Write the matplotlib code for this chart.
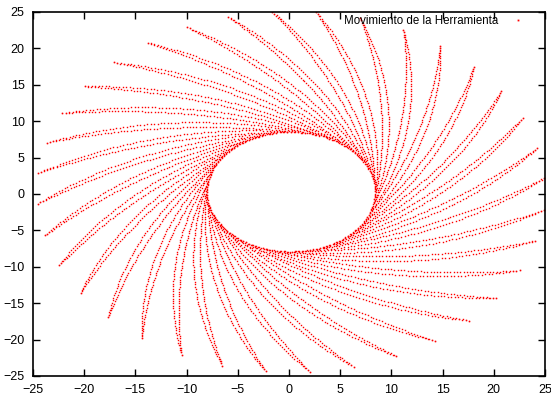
import numpy as np
import matplotlib
matplotlib.use("Agg")
import matplotlib.pyplot as plt

plt.rcParams['font.family'] = ['Liberation Sans', 'DejaVu Sans']

# tip angles (deg) of the 36 arms
tip_angles = [4.4, 14.1, 24.2, 34.0, 43.9, 54.0, 63.7, 74.2, 84.3, 94.3,
              104.3, 114.2, 124.3, 134.2, 144.3, 154.2, 164.2, 174.0,
              183.8, 194.0, 204.0, 214.0, 224.0, 234.0, 244.5, 254.3,
              264.3, 274.3, 284.3, 294.5, 304.5, 314.5, 324.0, 334.2,
              344.3, 354.3]
hole_center = (0.2, 0.3)
inner_r = 8.2          # radius of the empty hole
outer_r = 24.8         # radius where the arms end
bend_r = [40.0, 58.0]  # curvature radius of the two strokes of each arm
n_pts = 80

xticks = [-25, -20, -15, -10, -5, 0, 5, 10, 15, 20, 25]
yticks = [-25, -20, -15, -10, -5, 0, 5, 10, 15, 20, 25]


def stroke(tip_deg, rho):
    # arc tangent to the hole, bending with radius rho, ending at the tip
    c = inner_r - rho
    cos_end = (c * c + rho * rho - outer_r ** 2) / (-2 * c * rho)
    phi = np.linspace(0, np.arccos(cos_end), n_pts)
    px = c + rho * np.cos(phi)
    py = rho * np.sin(phi)
    rot = np.radians(tip_deg) - np.arctan2(py[-1], px[-1])
    x = px * np.cos(rot) - py * np.sin(rot) + hole_center[0]
    y = px * np.sin(rot) + py * np.cos(rot) + hole_center[1]
    return x, y


fig = plt.figure(figsize=(5.51, 4.0), dpi=100)
ax = fig.add_axes([0.0599, 0.06, 0.929, 0.91])

first = True
for t in tip_angles:
    for rho in bend_r:
        x, y = stroke(t, rho)
        ax.plot(x, y, ls='none', marker='s', ms=1.0, mew=0, color='red',
                label='Movimiento de la Herramienta' if first else None)
        first = False

ax.set_xlim(-25, 25)
ax.set_ylim(-25, 25)
ax.set_xticks(xticks)
ax.set_yticks(yticks)
ax.tick_params(direction='in', top=True, right=True, labelsize=9, length=5,
               width=1, pad=6)
for s in ax.spines.values():
    s.set_linewidth(1.2)

ax.legend(loc='upper right', bbox_to_anchor=(0.972, 1.0),
          markerfirst=False, frameon=False, fontsize=8.3,
          handlelength=1.5, handletextpad=1.0, borderaxespad=0.0,
          borderpad=0.3, markerscale=1.3)

fig.savefig('out.png', dpi=100)
